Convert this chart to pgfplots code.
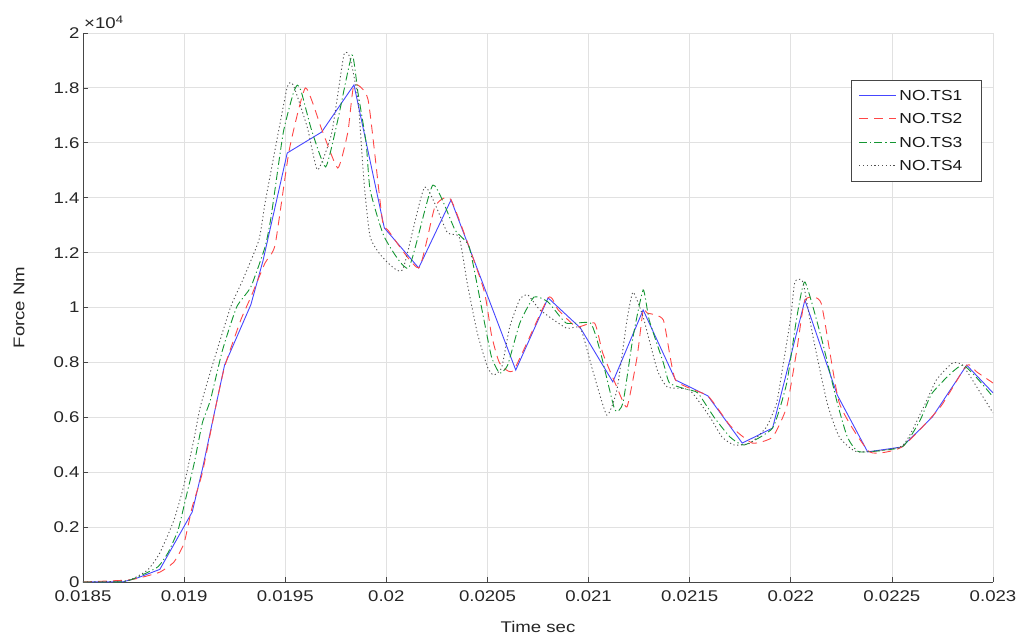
\documentclass[border=0pt]{standalone}
\usepackage{fontspec}
\setmainfont{Liberation Sans}[FakeStretch=1.2]
\usepackage{pgfplots}
\pgfplotsset{compat=1.18}

\definecolor{tsblue}{RGB}{70,70,255}
\definecolor{tsred}{RGB}{255,70,70}
\definecolor{tsgreen}{RGB}{20,150,50}
\definecolor{tsgray}{RGB}{80,80,80}
\definecolor{gridc}{RGB}{225,225,225}
\definecolor{axc}{RGB}{70,70,70}

\tikzset{
  ts1/.style={draw=tsblue, line width=0.9pt},
  ts2/.style={draw=tsred, line width=0.9pt, dash pattern=on 9pt off 6pt},
  ts3/.style={draw=tsgreen, line width=0.9pt, dash pattern=on 8pt off 3pt on 1.2pt off 3pt},
  ts4/.style={draw=tsgray, line width=0.9pt, dash pattern=on 1.2pt off 2.6pt},
}

\begin{document}
\begin{tikzpicture}
\begin{axis}[
  scale only axis,
  width=910pt, height=549pt,
  xmin=0.0185, xmax=0.023,
  ymin=0, ymax=20000,
  axis x line*=bottom, axis y line*=left,
  axis line style={axc, line width=0.8pt},
  xtick={0.0185,0.019,0.0195,0.02,0.0205,0.021,0.0215,0.022,0.0225,0.023},
  ytick={0,2000,4000,6000,8000,10000,12000,14000,16000,18000,20000},
  scaled x ticks=false,
  scaled y ticks=base 10:-4,
  ytick scale label code/.code={\fontsize{15.5}{18}\selectfont ×10\textsuperscript{#1}},
  every y tick scale label/.style={at={(rel axis cs:0,1)}, anchor=south west, inner sep=0pt, yshift=4pt, xshift=1pt, text=black!85},
  xticklabel style={/pgf/number format/fixed, /pgf/number format/precision=4, yshift=-5pt},
  yticklabel style={/pgf/number format/fixed, /pgf/number format/precision=1},
  /pgf/number format/assume math mode=true,
  tick align=inside,
  major tick length=5pt,
  tick style={axc, line width=0.6pt},
  grid=major,
  major grid style={gridc, line width=0.8pt},
  tick label style={font=\fontsize{15.5}{18}\selectfont, text=black!85},
  xlabel={Time sec},
  ylabel={Force Nm},
  every axis x label/.style={at={(rel axis cs:0.5,0)}, anchor=center, yshift=-45pt,
    font=\fontsize{15.5}{18}\selectfont, text=black!85},
  every axis y label/.style={at={(rel axis cs:0,0.5)}, anchor=center, rotate=90, yshift=64pt,
    font=\fontsize{15.5}{18}\selectfont, text=black!85},
  clip=true,
]
\addplot[ts1] table {
0.01850 0
0.01870 10
0.01877 150
0.01888 460
0.01904 2550
0.01909 4100
0.01920 7900
0.01933 10100
0.01939 11700
0.01951 15630
0.01968 16390
0.01984 18110
0.01999 12900
0.02016 11440
0.02032 13920
0.02064 7720
0.02080 10350
0.02096 9250
0.02112 7290
0.02127 9910
0.02143 7360
0.02159 6780
0.02176 5060
0.02191 5610
0.02207 10270
0.02223 6810
0.02238 4740
0.02255 4920
0.02270 6010
0.02287 7900
0.02300 6890
};

\addplot[ts2, smooth, tension=0.3] table {
0.01850 0
0.01872 70
0.01878 150
0.01888 360
0.01895 730
0.01900 1420
0.01904 2730
0.01909 3970
0.01915 6160
0.01920 7830
0.01928 9540
0.01933 10380
0.01940 11620
0.01945 12280
0.01952 15740
0.01960 18000
0.01968 16500
0.01976 15080
0.01981 16400
0.01984 18110
0.01991 17560
0.01998 13200
0.02001 12800
0.02016 11440
0.02024 13660
0.02032 13920
0.02048 10700
0.02052 9000
0.02056 7980
0.02063 7720
0.02080 10350
0.02085 9910
0.02094 9290
0.02103 9430
0.02107 8340
0.02114 7100
0.02119 6380
0.02124 8200
0.02127 9910
0.02129 9800
0.02137 9540
0.02143 7360
0.02159 6780
0.02170 5700
0.02181 5060
0.02191 5280
0.02198 6380
0.02203 8450
0.02207 10270
0.02215 10160
0.02224 6520
0.02239 4740
0.02255 4920
0.02274 6380
0.02287 7900
0.02292 7650
0.02300 7250
};

\addplot[ts3, smooth, tension=0.3] table {
0.01850 0
0.01870 10
0.01877 180
0.01887 550
0.01892 1060
0.01897 1890
0.01901 3100
0.01905 4330
0.01909 5790
0.01913 6630
0.01919 8450
0.01926 10020
0.01933 10750
0.01940 12200
0.01943 13300
0.01949 16360
0.01954 17810
0.01956 18100
0.01958 17850
0.01963 16470
0.01970 15120
0.01976 16830
0.01983 19200
0.01986 17810
0.01990 16000
0.01992 14280
0.01999 12570
0.02011 11440
0.02023 14460
0.02034 12820
0.02041 12200
0.02048 9650
0.02052 8200
0.02056 7610
0.02060 7900
0.02066 9430
0.02073 10380
0.02080 10200
0.02089 9430
0.02101 9430
0.02106 8340
0.02113 6270
0.02117 6520
0.02122 8930
0.02127 10640
0.02130 9540
0.02137 7980
0.02140 7250
0.02148 7030
0.02154 6890
0.02162 6010
0.02170 5280
0.02177 4990
0.02191 5610
0.02198 7250
0.02203 9650
0.02207 10930
0.02215 8930
0.02223 6520
0.02228 5280
0.02234 4740
0.02255 4920
0.02264 5900
0.02270 6890
0.02285 7900
0.02300 6740
};

\addplot[ts4, smooth, tension=0.3] table {
0.01850 0
0.01872 50
0.01882 440
0.01888 1060
0.01895 2260
0.01900 3550
0.01905 5250
0.01908 6380
0.01914 7900
0.01923 10020
0.01929 11000
0.01937 12460
0.01940 13800
0.01944 15370
0.01951 18030
0.01954 18100
0.01961 16540
0.01966 15010
0.01973 16360
0.01979 19200
0.01982 19100
0.01986 17560
0.01989 14530
0.01992 12570
0.01998 11840
0.02008 11370
0.02019 14390
0.02030 12750
0.02036 12570
0.02040 10890
0.02045 9070
0.02050 7830
0.02053 7540
0.02057 7800
0.02061 9290
0.02066 10300
0.02070 10460
0.02076 9910
0.02089 9250
0.02096 9250
0.02102 7720
0.02109 6080
0.02114 6990
0.02119 9540
0.02122 10560
0.02127 9650
0.02134 7720
0.02139 7100
0.02150 6990
0.02160 6010
0.02166 5280
0.02172 4990
0.02180 5060
0.02188 5650
0.02193 6520
0.02196 7830
0.02200 9650
0.02202 10930
0.02206 10930
0.02211 8930
0.02218 6520
0.02224 5280
0.02233 4740
0.02255 4950
0.02265 6270
0.02272 7360
0.02280 7980
0.02285 7900
0.02292 7100
0.02300 6160
};
\coordinate (legNE) at (rel axis cs:0.988,0.914);
\end{axis}
% legend box with one line sample per series
\node[anchor=north east, draw=axc, fill=white, line width=0.8pt, inner sep=0pt,
      minimum width=130pt, minimum height=101pt] (leg) at (legNE) {};
\foreach \s/\dy in {1/15, 2/38, 3/62, 4/85} {
  \draw[ts\s] ([xshift=8pt, yshift=-\dy pt]leg.north west) -- ++(37pt,0pt);
  \node[anchor=west, inner sep=0pt, font=\fontsize{14.5}{17}\selectfont, text=black!90]
    at ([xshift=48pt, yshift=-\dy pt]leg.north west) {NO.TS\s};
}
\pgfresetboundingbox
\path ([xshift=-83pt,yshift=-57pt]current axis.south west) rectangle ([xshift=28pt,yshift=33pt]current axis.north east);
\end{tikzpicture}
\end{document}
